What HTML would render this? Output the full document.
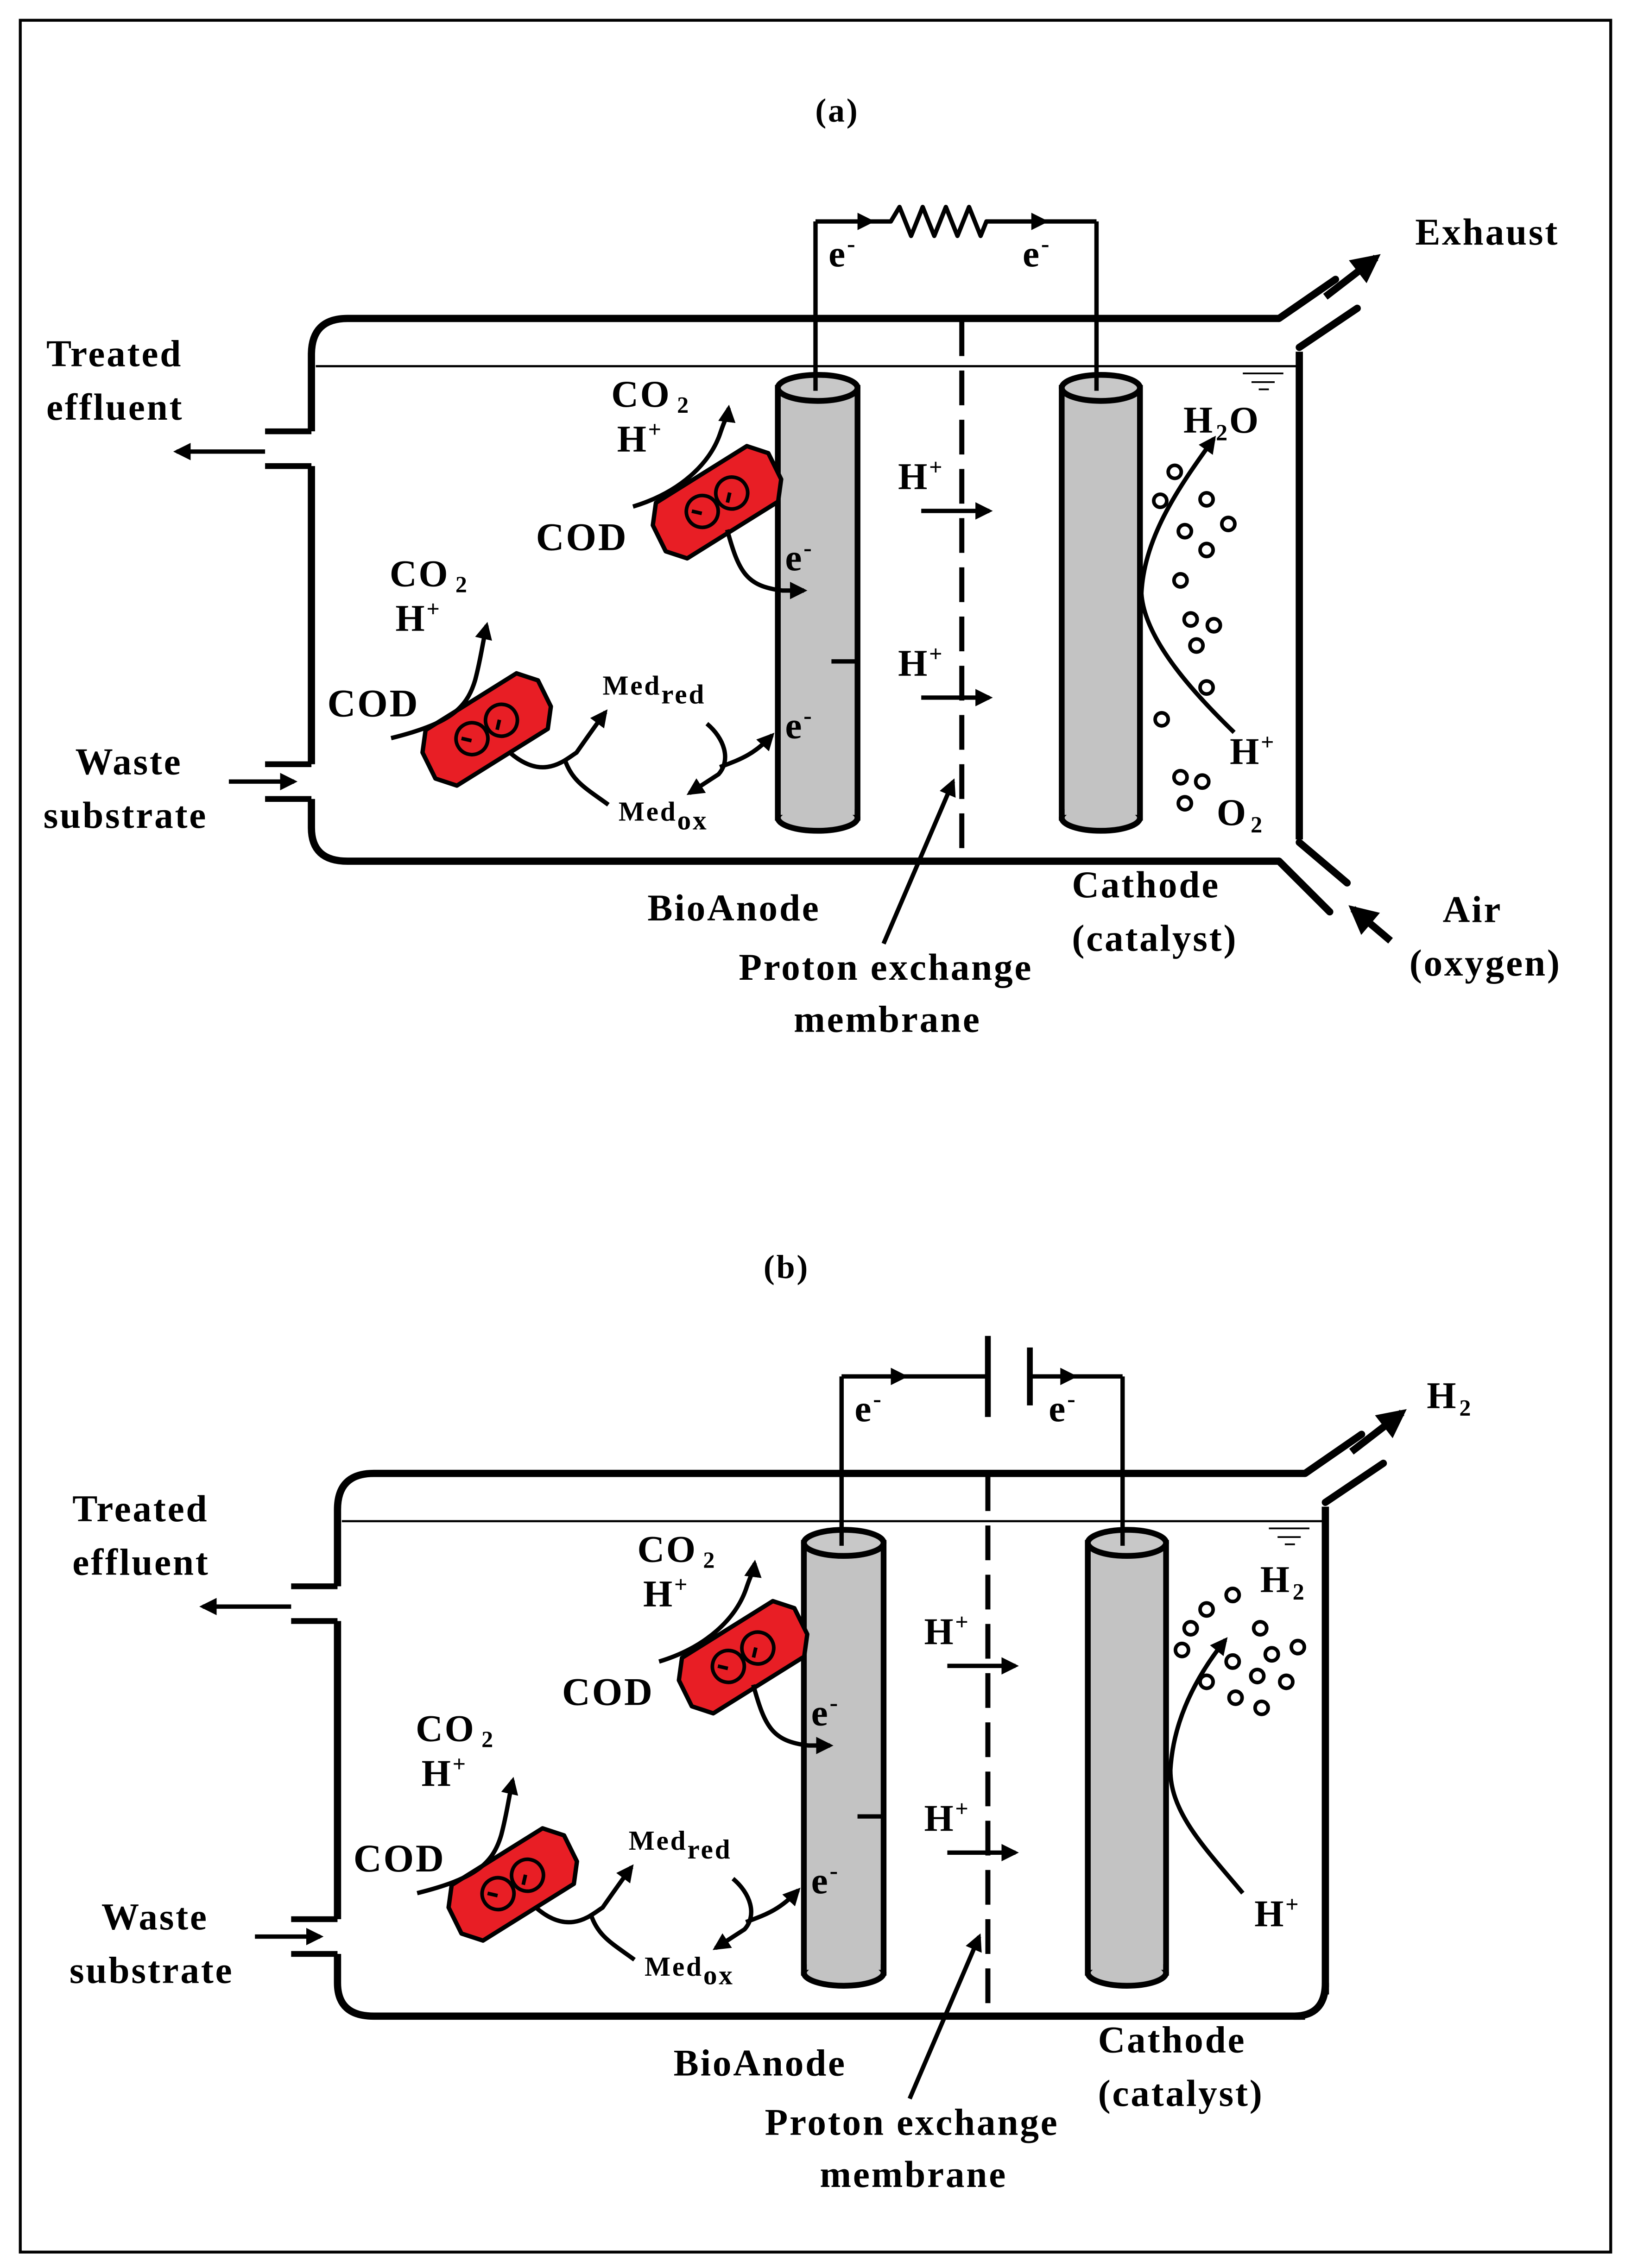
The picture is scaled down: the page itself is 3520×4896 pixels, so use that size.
<!DOCTYPE html>
<html><head><meta charset="utf-8"><style>
html,body{margin:0;padding:0;background:#fff;}
svg{display:block;}
text{font-family:"Liberation Serif",serif;font-weight:bold;fill:#000;letter-spacing:1.2px;}
</style></head><body>
<svg width="3520" height="4896" viewBox="0 0 1126 1567" preserveAspectRatio="none" xmlns="http://www.w3.org/2000/svg">
<defs>
<marker id="ah" viewBox="0 0 10 10" refX="8" refY="5" markerWidth="4" markerHeight="4" orient="auto"><path d="M0,0 L10,5 L0,10 Z" fill="#000"/></marker>
<g id="bact">
<path d="M-46,-10 L-36,-22 L38,-22 L48,-10 L46,10 L36,22 L-38,22 L-48,10 Z" fill="#e81e25" stroke="#000" stroke-width="3" stroke-linejoin="round"/>
<g fill="none" stroke="#000" stroke-width="2.5">
<circle cx="-12" cy="0" r="11"/><circle cx="12" cy="0" r="11"/>
<path d="M-18,-4 l5,5 M6,4 l5,-5"/>
</g>
</g>
<g id="common">
<path d="M215,298 L215,245 Q215,220 240,220 L883,220" fill="none" stroke="#000" stroke-width="5"/>
<path d="M215,322 L215,528" fill="none" stroke="#000" stroke-width="5"/>
<path d="M215,552 L215,572 Q215,595 240,595 L883,595" fill="none" stroke="#000" stroke-width="5"/>
<path d="M897,243 L897,580" fill="none" stroke="#000" stroke-width="5"/>
<path d="M183,298 L215,298 M183,322 L215,322 M183,528 L215,528 M183,552 L215,552" stroke="#000" stroke-width="4"/>
<line x1="218" y1="253" x2="895" y2="253" stroke="#000" stroke-width="1.5"/>
<path d="M858,258 L886,258 M864,264 L880,264 M869,269 L876,269" stroke="#000" stroke-width="1.2"/>
<line x1="183" y1="312" x2="122" y2="312" stroke="#000" stroke-width="3" marker-end="url(#ah)"/>
<line x1="158" y1="540" x2="203" y2="540" stroke="#000" stroke-width="3" marker-end="url(#ah)"/>
<line x1="664" y1="222" x2="664" y2="594" stroke="#000" stroke-width="3.5" stroke-dasharray="24 10"/>
<rect x="537" y="268" width="55" height="297" fill="#c3c3c3" stroke="#000" stroke-width="4"/>
<ellipse cx="564.5" cy="565" rx="27.5" ry="9" fill="#c3c3c3" stroke="#000" stroke-width="4"/>
<rect x="539" y="268" width="51" height="295" fill="#c3c3c3"/>
<ellipse cx="564.5" cy="268" rx="27.5" ry="9" fill="#c8c8c8" stroke="#000" stroke-width="4"/>
<line x1="574" y1="457" x2="591" y2="457" stroke="#000" stroke-width="3"/>
<rect x="733" y="268" width="54" height="297" fill="#c3c3c3" stroke="#000" stroke-width="4"/>
<ellipse cx="760" cy="565" rx="27" ry="9" fill="#c3c3c3" stroke="#000" stroke-width="4"/>
<rect x="735" y="268" width="50" height="295" fill="#c3c3c3"/>
<ellipse cx="760" cy="268" rx="27" ry="9" fill="#c8c8c8" stroke="#000" stroke-width="4"/>
<path d="M563,270 L563,153" fill="none" stroke="#000" stroke-width="3"/>
<path d="M757,270 L757,153" fill="none" stroke="#000" stroke-width="3"/>
<line x1="636" y1="353" x2="683" y2="353" stroke="#000" stroke-width="3" marker-end="url(#ah)"/>
<line x1="636" y1="482" x2="683" y2="482" stroke="#000" stroke-width="3" marker-end="url(#ah)"/>
<text x="620" y="338" font-size="26">H<tspan font-size="16" dy="-10">+</tspan></text>
<text x="620" y="467" font-size="26">H<tspan font-size="16" dy="-10">+</tspan></text>
<use href="#bact" transform="translate(495,347) rotate(-32)"/>
<use href="#bact" transform="translate(336,504) rotate(-32)"/>
<path d="M437,350 C470,340 490,320 497,300 C502,285 502,290 503,282" fill="none" stroke="#000" stroke-width="3" marker-end="url(#ah)"/>
<path d="M502,366 C510,395 515,405 540,408 L555,408" fill="none" stroke="#000" stroke-width="3" marker-end="url(#ah)"/>
<path d="M270,510 C310,500 322,490 328,470 C332,455 333,445 336,432" fill="none" stroke="#000" stroke-width="3" marker-end="url(#ah)"/>
<path d="M352,520 C375,540 390,525 398,520 C405,510 412,500 418,492" fill="none" stroke="#000" stroke-width="3" marker-end="url(#ah)"/>
<path d="M420,556 C405,545 395,540 390,525" fill="none" stroke="#000" stroke-width="3"/>
<path d="M488,500 C500,510 505,525 496,535 L476,548" fill="none" stroke="#000" stroke-width="3" marker-end="url(#ah)"/>
<path d="M497,530 C510,525 520,522 533,508" fill="none" stroke="#000" stroke-width="3" marker-end="url(#ah)"/>
<text x="422" y="281" font-size="26">CO<tspan font-size="16" dx="4" dy="4">2</tspan></text>
<text x="426" y="312" font-size="26">H<tspan font-size="16" dy="-10">+</tspan></text>
<text x="370" y="380" font-size="27">COD</text>
<text x="269" y="405" font-size="26">CO<tspan font-size="16" dx="4" dy="4">2</tspan></text>
<text x="273" y="436" font-size="26">H<tspan font-size="16" dy="-10">+</tspan></text>
<text x="226" y="495" font-size="27">COD</text>
<text x="416" y="480" font-size="19">Med<tspan dy="6">red</tspan></text>
<text x="427" y="567" font-size="19">Med<tspan dy="6">ox</tspan></text>
<text x="542" y="394" font-size="26" font-weight="normal">e<tspan font-size="17" dy="-10">-</tspan></text>
<text x="542" y="510" font-size="26" font-weight="normal">e<tspan font-size="17" dy="-10">-</tspan></text>
<text x="32" y="253" font-size="26">Treated</text>
<text x="32" y="290" font-size="26">effluent</text>
<text x="52" y="535" font-size="26">Waste</text>
<text x="30" y="572" font-size="26">substrate</text>
<text x="447" y="636" font-size="26">BioAnode</text>
<text x="510" y="677" font-size="26">Proton exchange</text>
<text x="548" y="713" font-size="26">membrane</text>
<text x="740" y="620" font-size="26">Cathode</text>
<text x="740" y="657" font-size="26">(catalyst)</text>
<line x1="610" y1="652" x2="658" y2="540" stroke="#000" stroke-width="3" marker-end="url(#ah)"/>
<path d="M883,220 L922,193 M897,240 L937,213" stroke="#000" stroke-width="5" stroke-linecap="round"/>
<line x1="915" y1="205" x2="950" y2="178" stroke="#000" stroke-width="5" marker-end="url(#ah)"/>
</g>
</defs>
<rect x="14" y="14" width="1098" height="1542" fill="none" stroke="#000" stroke-width="2"/>
<text x="578" y="84" font-size="23" text-anchor="middle">(a)</text>
<text x="543" y="883" font-size="23" text-anchor="middle">(b)</text>

<use href="#common"/>
<path d="M563,153 L615,153 L621,143 L629,163 L637,143 L645,163 L653,143 L661,163 L669,143 L677,163 L681,153 L757,153" fill="none" stroke="#000" stroke-width="3" stroke-linejoin="round"/>
<path d="M592,147 L604,153 L592,159 Z M712,147 L724,153 L712,159 Z" fill="#000"/>
<text x="572" y="184" font-size="26" font-weight="normal">e<tspan font-size="17" dy="-10">-</tspan></text>
<text x="706" y="184" font-size="26" font-weight="normal">e<tspan font-size="17" dy="-10">-</tspan></text>
<text x="977" y="169" font-size="26">Exhaust</text>
<path d="M883,595 L918,630 M897,582 L930,610" stroke="#000" stroke-width="5" stroke-linecap="round"/>
<line x1="960" y1="650" x2="934" y2="628" stroke="#000" stroke-width="5" marker-end="url(#ah)"/>
<text x="996" y="637" font-size="26">Air</text>
<text x="973" y="674" font-size="26">(oxygen)</text>
<path d="M852,506 C820,475 790,440 788,410 C790,370 815,335 838,303" fill="none" stroke="#000" stroke-width="3" marker-end="url(#ah)"/>
<g fill="none" stroke="#000" stroke-width="2.5">
<circle cx="811" cy="326" r="4.5"/><circle cx="801" cy="346" r="4.5"/><circle cx="833" cy="345" r="4.5"/>
<circle cx="848" cy="362" r="4.5"/><circle cx="818" cy="367" r="4.5"/><circle cx="833" cy="380" r="4.5"/>
<circle cx="815" cy="401" r="4.5"/><circle cx="822" cy="428" r="4.5"/><circle cx="838" cy="432" r="4.5"/>
<circle cx="826" cy="446" r="4.5"/><circle cx="833" cy="475" r="4.5"/><circle cx="802" cy="497" r="4.5"/>
<circle cx="815" cy="537" r="4.5"/><circle cx="830" cy="540" r="4.5"/><circle cx="818" cy="555" r="4.5"/>
</g>
<text x="817" y="299" font-size="26">H<tspan font-size="16" dx="1" dy="5">2</tspan><tspan dy="-5">O</tspan></text>
<text x="849" y="528" font-size="26">H<tspan font-size="16" dy="-10">+</tspan></text>
<text x="840" y="570" font-size="26">O<tspan font-size="16" dx="2" dy="5">2</tspan></text>

<g transform="translate(18,798)">
<use href="#common"/>
<path d="M897,575 L897,572 Q897,595 875,595 L880,595" fill="none" stroke="#000" stroke-width="5"/>
<path d="M563,153 L664,153 M693,153 L757,153" fill="none" stroke="#000" stroke-width="3"/>
<path d="M664,125 L664,181 M693,133 L693,173" stroke="#000" stroke-width="4"/>
<path d="M597,147 L609,153 L597,159 Z M714,147 L726,153 L714,159 Z" fill="#000"/>
<text x="572" y="184" font-size="26" font-weight="normal">e<tspan font-size="17" dy="-10">-</tspan></text>
<text x="706" y="184" font-size="26" font-weight="normal">e<tspan font-size="17" dy="-10">-</tspan></text>
<text x="967" y="175" font-size="26">H<tspan font-size="16" dx="1" dy="5">2</tspan></text>
<path d="M840,510 C815,480 790,455 790,425 C792,390 808,360 828,335" fill="none" stroke="#000" stroke-width="3" marker-end="url(#ah)"/>
<g fill="none" stroke="#000" stroke-width="2.5">
<circle cx="833" cy="304" r="4.5"/><circle cx="815" cy="314" r="4.5"/><circle cx="804" cy="327" r="4.5"/>
<circle cx="798" cy="342" r="4.5"/><circle cx="852" cy="327" r="4.5"/><circle cx="860" cy="345" r="4.5"/>
<circle cx="878" cy="340" r="4.5"/><circle cx="833" cy="350" r="4.5"/><circle cx="850" cy="360" r="4.5"/>
<circle cx="870" cy="364" r="4.5"/><circle cx="815" cy="364" r="4.5"/><circle cx="835" cy="375" r="4.5"/>
<circle cx="853" cy="382" r="4.5"/>
</g>
<text x="852" y="302" font-size="26">H<tspan font-size="16" dx="1" dy="5">2</tspan></text>
<text x="848" y="533" font-size="26">H<tspan font-size="16" dy="-10">+</tspan></text>
</g>
</svg>
</body></html>
